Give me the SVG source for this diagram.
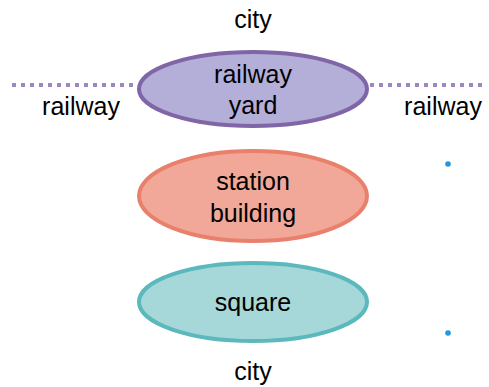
<svg xmlns="http://www.w3.org/2000/svg" width="489" height="387" viewBox="0 0 489 387">
<style>
text{font-family:"Liberation Sans",Arial,sans-serif;font-size:25px;fill:#000;text-anchor:middle}
.rail{stroke:#9d86c4;stroke-width:4;stroke-dasharray:4 5;fill:none}
</style>
<rect width="489" height="387" fill="#fff"/>
<g id="connectors">
<line class="rail" x1="12" y1="85" x2="137" y2="85"/>
<line class="rail" x1="370" y1="85" x2="486" y2="85"/>
</g>
<g id="city-top"><text x="253" y="28">city</text></g>
<g id="railway-left"><text x="81" y="115">railway</text></g>
<g id="railway-right"><text x="443" y="115">railway</text></g>
<g id="railway-yard">
<ellipse cx="253" cy="89" rx="114" ry="37" fill="#b3afd8" stroke="#8066a6" stroke-width="4"/>
<text x="253" y="83">railway</text>
<text x="253" y="114">yard</text>
</g>
<g id="station-building">
<ellipse cx="253" cy="196" rx="114" ry="45" fill="#f2a898" stroke="#e8806c" stroke-width="4"/>
<text x="253" y="190">station</text>
<text x="253" y="222">building</text>
</g>
<g id="square">
<ellipse cx="253" cy="302" rx="114" ry="39" fill="#a6d8d9" stroke="#5bb8bd" stroke-width="4"/>
<text x="253" y="311">square</text>
</g>
<g id="city-bottom"><text x="253" y="380">city</text></g>
<circle cx="448" cy="164" r="2.8" fill="#1e9be0"/>
<circle cx="448" cy="333" r="2.8" fill="#1e9be0"/>
</svg>
